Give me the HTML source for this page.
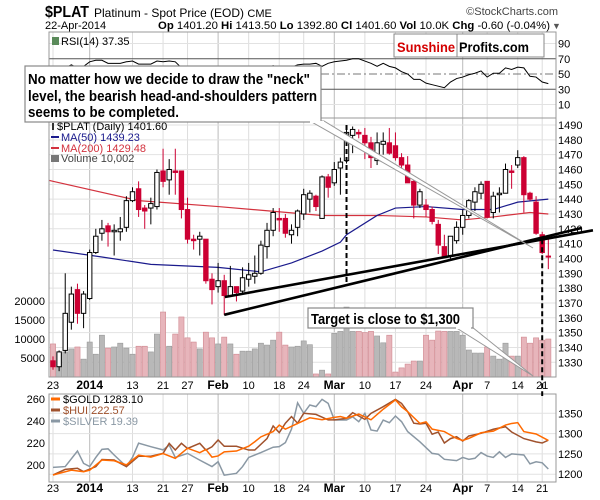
<!DOCTYPE html>
<html><head><meta charset="utf-8"><style>
html,body{margin:0;padding:0;background:#fff;}
svg{display:block;font-family:"Liberation Sans",Arial,sans-serif;}
</style></head><body>
<svg id="chart" width="600" height="500" viewBox="0 0 600 500" xmlns="http://www.w3.org/2000/svg">
<text x="45" y="17" font-size="16" font-weight="bold" textLength="44" lengthAdjust="spacingAndGlyphs">$PLAT</text>
<text x="94" y="17" font-size="12">Platinum  - Spot Price (EOD)  <tspan font-size="11">CME</tspan></text>
<text x="558" y="15" font-size="11" text-anchor="end" fill="#444">©StockCharts.com</text>
<text x="45" y="29" font-size="11">22-Apr-2014</text>
<text x="158" y="29" font-size="11" textLength="392" lengthAdjust="spacingAndGlyphs"><tspan font-weight="bold">Op</tspan> 1401.20 <tspan font-weight="bold">Hi</tspan> 1413.50 <tspan font-weight="bold">Lo</tspan> 1392.80 <tspan font-weight="bold">Cl</tspan> 1401.60 <tspan font-weight="bold">Vol</tspan> 10.0K <tspan font-weight="bold">Chg</tspan> -0.60 (-0.04%)</text>
<text x="552" y="29" font-size="9" fill="#555">▼</text>
<g id="layer"></g>
</svg>
<script>
// ---------- data ----------
const opens  = [1331,1327,1338,1357,1379,1363,1373,1404,1417,1422,1418,1418,1421,1439,1447,1434,1434,1435,1459,1453,1459,1459,1433,1413,1413,1413,1386,1381,1385,1375,1381,1378,1386,1388,1390,1408,1419,1427,1427,1416,1421,1430,1440,1442,1427,1455,1451,1461,1466,1483,1485,1483,1478,1466,1477,1478,1476,1468,1463,1452,1436,1436,1433,1423,1408,1402,1412,1421,1429,1438,1444,1452,1431,1443,1444,1459,1463,1468,1444,1438,1416,1401.2];
const highs  = [1334,1338,1390,1381,1383,1378,1406,1420,1426,1424,1423,1428,1442,1448,1452,1436,1441,1460,1474,1467,1474,1459,1441,1416,1418,1413,1390,1397,1389,1395,1381,1394,1397,1402,1412,1424,1434,1434,1430,1423,1433,1447,1446,1443,1456,1457,1465,1468,1490,1489,1487,1488,1482,1485,1485,1488,1485,1471,1469,1453,1447,1440,1435,1426,1416,1415,1425,1433,1440,1448,1452,1452,1445,1448,1464,1463,1473,1469,1445,1442,1418,1413.5];
const lows   = [1325,1324,1336,1352,1356,1353,1372,1403,1412,1408,1402,1412,1418,1438,1428,1420,1423,1433,1448,1443,1443,1427,1410,1406,1402,1383,1369,1377,1362,1374,1371,1376,1381,1383,1389,1400,1415,1418,1414,1410,1415,1426,1431,1432,1427,1441,1449,1443,1464,1471,1481,1467,1461,1463,1470,1470,1466,1460,1451,1427,1434,1428,1423,1403,1400,1400,1410,1416,1427,1432,1440,1427,1427,1431,1444,1447,1461,1431,1439,1416,1403,1392.8];
const closes = [1327,1337,1363,1376,1363,1376,1404,1415,1420,1418,1419,1420,1439,1445,1433,1432,1437,1458,1452,1460,1458,1433,1413,1412,1415,1385,1379,1385,1375,1381,1377,1387,1389,1390,1409,1419,1431,1426,1417,1419,1432,1443,1444,1435,1455,1448,1460,1465,1485,1487,1484,1478,1468,1478,1479,1471,1468,1463,1451,1436,1445,1433,1425,1409,1401,1415,1421,1429,1439,1445,1450,1428,1442,1444,1460,1458,1468,1443,1440,1417,1404,1401.6];
const volumes = [8700,6300,6600,7400,7900,4700,9200,6000,11000,7600,7900,8900,7600,6000,8100,8100,6600,11300,17100,8100,11300,15800,10300,9200,7400,11800,10300,8700,10500,8700,6000,6800,6800,7400,8900,8400,9700,11800,8400,7900,8100,9500,8500,800,1800,800,11500,12000,18400,12000,12000,11700,12000,10800,9000,11000,1300,2400,3400,4200,4200,11000,9700,12100,12000,12000,12000,11000,7100,6300,6300,7900,5500,4700,8900,5500,5500,10500,8900,10300,9700,10002];
const ma50Idx = [0,8,16,27,34,39,44,47,48,53,56,61,67,72,76,81];
const ma50Val = [1405.7,1401,1396,1394,1391,1397,1405,1411,1416,1429,1434,1435,1433,1433,1438,1440];
const ma200Idx = [-2,0,14,27,44,53,61,67,72,78,81];
const ma200Val = [1454,1452,1439,1435,1429,1429,1428,1426,1428,1431,1430];
const rsiVals = [40,45,58,62,58,60,66,68,68,64,64,64,66,67,63,63,63,67,66,67,66,58,54,53,54,44,42,43,40,42,41,45,46,47,53,58,61,58,57,59,62,63,63,64,60,64,66,67,68,70,70,67,64,60,64,60,58,53,50,43,43,38,36,34,32,39.5,44,46,49,51,54,46,51,51,58,56,59,58,47,46,39.5,37.35];
const goldIdx = [0,3,5,6,8,10,12,14,16,18,20,22,24,25,26,27,28,30,32,33,34,36,37,38,40,42,44,46,47,48,50,52,54,56,57,58,60,61,62,64,66,67,68,70,72,74,75,76,77,79,81];
const goldVal = [1198,1210,1206,1210,1235,1233,1223,1247,1242,1251,1239,1264,1253,1261,1242,1245,1255,1257,1269,1280,1292,1305,1321,1311,1325,1339,1334,1340,1342,1338,1348,1334,1360,1383,1366,1354,1325,1329,1311,1305,1288,1283,1288,1302,1306,1321,1325,1327,1305,1299,1283.1];
const huiIdx = [0,2,4,5,7,8,10,12,14,16,18,19,20,21,22,24,25,26,27,28,30,32,33,35,36,37,38,39,40,41,43,45,46,48,49,51,52,54,56,57,58,59,60,61,62,63,64,65,66,67,68,70,72,74,75,77,79,80,81];
const huiVal = [191,196,197,194,198.5,205,204.5,198.5,208,208,210.6,219.7,213.6,219.7,215,219.7,213.6,216.6,222.7,217,217,213.6,213.6,224,235.5,229.4,238,244,238,247,246,241,241,242.4,247.6,241.5,247,253,259.7,256,248.5,238,237.3,238,228,230,220,224,225.7,221.8,226.4,228.8,232.5,234.8,230,224,221,220,222.57];
const silverIdx = [0,2,4,5,6,7,8,9,10,12,13,14,16,18,19,20,22,24,26,27,28,30,31,32,34,36,37,38,39,40,41,42,43,44,45,46,47,48,49,50,51,52,53,54,55,56,57,58,60,62,63,64,66,67,68,69,70,71,72,73,74,75,77,78,79,80,81];
const silverVal = [19.45,19.48,20.06,19.60,19.48,19.82,20.12,20.14,19.91,19.48,19.82,20.35,20.22,20.10,20.28,19.82,19.97,19.72,19.48,19.66,19.16,19.23,19.48,19.82,20.00,20.20,20.22,20.37,20.87,21.85,21.46,21.77,21.71,21.98,21.83,21.21,21.21,21.21,21.33,21.15,21.46,20.84,20.80,21.21,21.11,21.36,21.15,20.78,20.40,19.97,19.94,19.75,19.70,19.82,19.75,19.79,20.00,19.87,19.82,20.03,19.82,19.95,19.91,19.58,19.66,19.62,19.39];
const dateTickIdx = [0,6,13,18,22,27,32,37,41,46,51,56,61,67,71,76,80];
const dateTickLabels = ["23","2014","13","21","27","Feb","10","18","24","Mar","10","17","24","Apr","7","14","21"];
const dateTickBold = [false,true,false,false,false,true,false,false,false,true,false,false,false,true,false,false,false];
const priceTicks = [1330,1340,1350,1360,1370,1380,1390,1400,1410,1420,1430,1440,1450,1460,1470,1480,1490];
const volTicks = [5000,10000,15000,20000];
const volTickLabels = ["5000","10000","15000","20000"];
const rsiTicks = [10,30,50,70,90];
const goldTicks = [1200,1250,1300,1350];
const huiTicks = [200,220,240,260];

// ---------- scales ----------
const xOf = i => 53 + i*6.115;
const yP = p => 125 + (1490-p)*1.483;
const yV = v => 377 - v/5000*19;
const yR = r => 74 - (r-50)*0.7625;
const yG = g => 413.3 + (1350-g)*0.406;
const yH = h => 399 + (260-h)*1.1;
const yS = s => 469 - (s-19.39)*26.9;

const NS = "http://www.w3.org/2000/svg";
const layer = document.getElementById('layer');
function mk(tag, attrs, parent){
  const e = document.createElementNS(NS, tag);
  for (const k in attrs) e.setAttribute(k, attrs[k]);
  (parent||layer).appendChild(e);
  return e;
}
const L=49, R=556;
const RSI_T=32, RSI_B=118, P_T=118, P_B=377, G_T=394, G_B=482;

let bg;
bg = mk('rect',{x:L,y:RSI_T,width:R-L,height:RSI_B-RSI_T,fill:'#fff'});


bg = mk('rect',{x:L,y:P_T,width:R-L,height:P_B-P_T,fill:'#fff'});


bg = mk('rect',{x:L,y:G_T,width:R-L,height:G_B-G_T,fill:'#fff'});



dateTickIdx.forEach((idx,k)=>{
  const x = xOf(idx);
  [[RSI_T,RSI_B],[P_T,P_B],[G_T,G_B]].forEach(([a,b])=>{
    const g = mk('line',{x1:x,x2:x,y1:a,y2:b,stroke:dateTickBold[k]?'#bbb':'#ddd','stroke-width':1});
    
    
  });
  [389, 492].forEach(yy=>{
    const t = mk('text',{x:x,y:yy,'font-size':dateTickBold[k]?12:11,'font-weight':dateTickBold[k]?'bold':'normal','text-anchor':'middle'});
    t.textContent = dateTickLabels[k];
    
    
  });
});
priceTicks.forEach(p=>{
  const y=yP(p);
  const g = mk('line',{x1:L,x2:R,y1:y,y2:y,stroke:'#e2e2e2'});
  
  
  const t = mk('text',{x:558,y:y+4,'font-size':11});
  t.textContent = p;
  
  
});
volTicks.forEach((v,k)=>{
  const t = mk('text',{x:45,y:yV(v)+4,'font-size':11,'text-anchor':'end'});
  t.textContent = volTickLabels[k];
  
  
});
rsiTicks.forEach(r=>{
  const y=yR(r);
  const g = mk('line',{x1:L,x2:R,y1:y,y2:y,stroke:(r===70||r===30)?'#555':(r===50?'#777':'#e2e2e2'),'stroke-dasharray':r===50?'8,3,2,3':'none'});
  
  
  const t = mk('text',{x:558,y:y+4,'font-size':11});
  t.textContent = r;
  
  
});
goldTicks.forEach(g0=>{
  const y=yG(g0);
  const g = mk('line',{x1:L,x2:R,y1:y,y2:y,stroke:'#e2e2e2'});
  
  
  const t = mk('text',{x:558,y:y+4,'font-size':11});
  t.textContent = g0;
  
  
});
huiTicks.forEach(h=>{
  const t = mk('text',{x:45,y:yH(h)+4,'font-size':11,'text-anchor':'end'});
  t.textContent = h;
  
  
});

const rsiPts = rsiVals.map((r,i)=>xOf(i)+','+yR(r)).join(' ');
const rsiLine = mk('polyline',{points:rsiPts,fill:'none',stroke:'#000','stroke-width':1});



const defs = mk('defs',{});
const cp = mk('clipPath',{id:'pclip'},defs);
mk('rect',{x:L,y:P_T,width:R-L,height:P_B-P_T},cp);
const pg = mk('g',{'clip-path':'url(#pclip)'});

volumes.forEach((v,i)=>{
  const down = i===0 || closes[i] < closes[i-1];
  const b = mk('rect',{x:xOf(i)-2.6,y:yV(v),width:5.2,height:P_B-yV(v),fill:down?'#e7b5bb':'#b8b8b8',stroke:down?'#d08890':'#999','stroke-width':0.6},pg);
  
  
});
const ma200 = mk('polyline',{points:ma200Idx.map((d,k)=>xOf(d)+','+yP(ma200Val[k])).join(' '),fill:'none',stroke:'#d3323e','stroke-width':1.2},pg);


const ma50 = mk('polyline',{points:ma50Idx.map((d,k)=>xOf(d)+','+yP(ma50Val[k])).join(' '),fill:'none',stroke:'#1a1a8c','stroke-width':1.2},pg);


opens.forEach((o,i)=>{
  const c = closes[i];
  const up = i>0 && c >= closes[i-1];
  const col = up ? '#000' : '#cc0033';
  const filled = c < o;
  const w = mk('line',{x1:xOf(i),x2:xOf(i),y1:yP(highs[i]),y2:yP(lows[i]),stroke:col,'stroke-width':1},pg);
  
  
  const top = yP(Math.max(o,c)), bot = yP(Math.min(o,c));
  const b = mk('rect',{x:xOf(i)-2.2,y:top,width:4.4,height:Math.max(1,bot-top),fill:filled?col:'#fff',stroke:col,'stroke-width':1},pg);
  
  
});

function series(idx, vals, yfn, color, name){
  const pl = mk('polyline',{points:idx.map((d,k)=>xOf(d)+','+yfn(vals[k])).join(' '),fill:'none',stroke:color,'stroke-width':1.5});
  
  
}
series(silverIdx, silverVal, yS, '#8a98a4', 'silver-line');
series(huiIdx, huiVal, yH, '#a0522d', 'hui-line');
series(goldIdx, goldVal, yG, '#ff6a00', 'gold-line');

[[RSI_T,RSI_B],[P_T,P_B],[G_T,G_B]].forEach(([a,b])=>{
  const r = mk('rect',{x:L,y:a,width:R-L,height:b-a,fill:'none',stroke:'#999'});
  
  
});

const tl1 = mk('line',{x1:xOf(28.1),y1:yP(1374),x2:xOf(88.3),y2:yP(1419),stroke:'#000','stroke-width':2.6});


const tl2 = mk('line',{x1:xOf(28),y1:yP(1362),x2:xOf(86.5),y2:yP(1420.6),stroke:'#000','stroke-width':2.6});


const dv1 = mk('line',{x1:xOf(48),x2:xOf(48),y1:yP(1490),y2:yP(1383),stroke:'#000','stroke-width':2,'stroke-dasharray':'5,3'});


const dv2 = mk('line',{x1:xOf(80),x2:xOf(80),y1:yP(1413),y2:396,stroke:'#000','stroke-width':2,'stroke-dasharray':'5,3'});



function txt(x,y,s,attrs,name){
  const t = mk('text',Object.assign({x:x,y:y,'font-size':11},attrs||{}));
  t.textContent = s;
  
  
  return t;
}
const ic1 = mk('rect',{x:52,y:123,width:2,height:7,fill:'#333'});


txt(57,130,'$PLAT (Daily) 1401.60',{},'legend-plat');
const d1 = mk('line',{x1:51,x2:59,y1:137,y2:137,stroke:'#1a1a8c','stroke-width':2});


txt(61,141,'MA(50) 1439.23',{fill:'#1a1a8c'},'legend-ma50');
const d2 = mk('line',{x1:51,x2:59,y1:148,y2:148,stroke:'#d3323e','stroke-width':2});


txt(61,152,'MA(200) 1429.48',{fill:'#d3323e'},'legend-ma200');
const d3 = mk('rect',{x:51,y:155,width:8,height:7,fill:'#777'});


txt(61,162,'Volume 10,002',{fill:'#444'},'legend-volume');
const d4 = mk('rect',{x:52,y:37,width:7,height:8,fill:'#5a8a5a'});


txt(61,45,'RSI(14) 37.35',{},'legend-rsi');

const g1 = mk('line',{x1:51,x2:60,y1:399,y2:399,stroke:'#ff6a00','stroke-width':3});


txt(63,403,'$GOLD 1283.10',{},'legend-gold');
const g2 = mk('line',{x1:51,x2:60,y1:410,y2:410,stroke:'#a0522d','stroke-width':3});


txt(63,414,'$HUI 222.57',{fill:'#a0522d'},'legend-hui');
const g3 = mk('line',{x1:51,x2:60,y1:421,y2:421,stroke:'#8a98a4','stroke-width':3});


txt(63,425,'$SILVER 19.39',{fill:'#8a98a4'},'legend-silver');

const sp = mk('rect',{x:394,y:34,width:150,height:23,fill:'#fff',stroke:'#888'});


const spd = mk('line',{x1:457,x2:457,y1:34,y2:57,stroke:'#888'});


txt(397,52,'Sunshine',{'font-size':14,'font-weight':'bold',fill:'#d40000',textLength:58,lengthAdjust:'spacingAndGlyphs'},'logo-sunshine');
txt(459,52,'Profits.com',{'font-size':14,'font-weight':'bold',fill:'#000',textLength:70,lengthAdjust:'spacingAndGlyphs'},'logo-profits');

const tail1 = mk('polygon',{points:'310,121 324,121 533,248',fill:'#fff',stroke:'#999','stroke-width':1});


const cb = mk('rect',{x:25,y:66,width:296,height:56,fill:'#fff',stroke:'#888','stroke-width':1.2});


mk('line',{x1:310,y1:122,x2:324,y2:122,stroke:'#fff','stroke-width':2});
txt(28,84,'No matter how we decide to draw the "neck"',{'font-size':15,'font-weight':'bold',textLength:282,lengthAdjust:'spacingAndGlyphs'},'callout-line-1');
txt(28,101,'level, the bearish head-and-shoulders pattern',{'font-size':15,'font-weight':'bold',textLength:289,lengthAdjust:'spacingAndGlyphs'},'callout-line-2');
txt(28,117,'seems to be completed.',{'font-size':15,'font-weight':'bold',textLength:151,lengthAdjust:'spacingAndGlyphs'},'callout-line-3');

const tail2 = mk('polygon',{points:'455,327 472,327 533,376',fill:'#fff',stroke:'#999','stroke-width':1});


const tb = mk('rect',{x:308,y:308,width:165,height:20,fill:'#fff',stroke:'#888','stroke-width':1.2});


mk('line',{x1:456,y1:328,x2:471,y2:328,stroke:'#fff','stroke-width':2});
txt(311,324,'Target is close to $1,300',{'font-size':15,'font-weight':'bold',textLength:149,lengthAdjust:'spacingAndGlyphs'},'target-callout-text');
</script>
</body></html>
